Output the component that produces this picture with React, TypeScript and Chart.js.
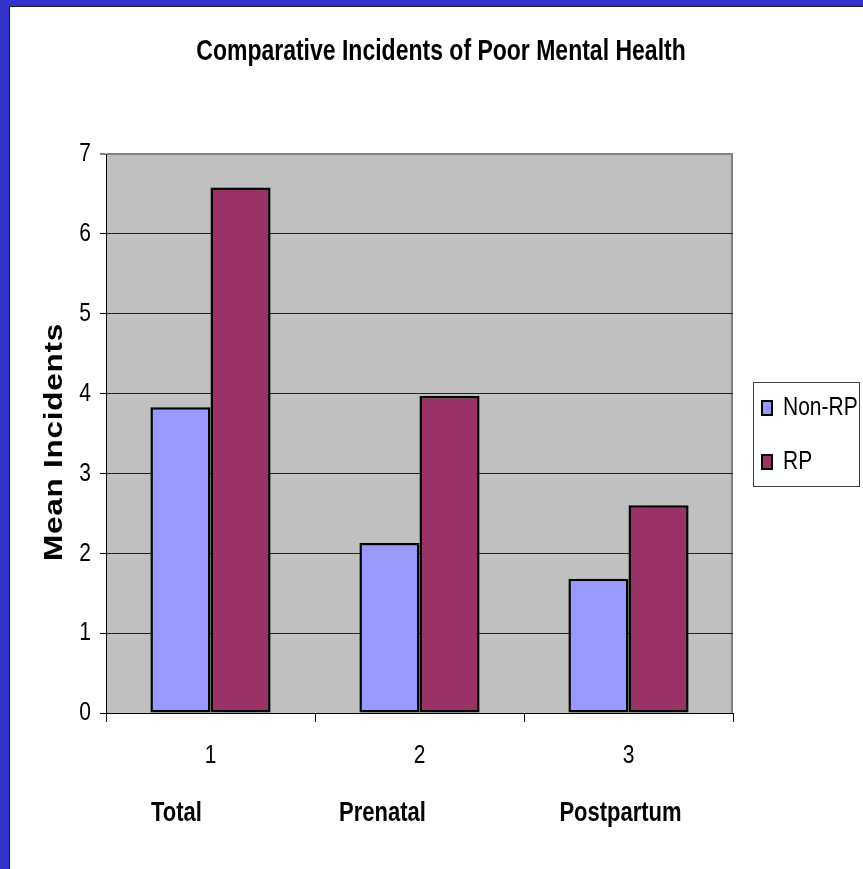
import React, { useEffect, useRef } from "react";
import { Chart, registerables } from "chart.js";

Chart.register(...registerables);

const categories = ["1", "2", "3"];
const groupNames = ["Total", "Prenatal", "Postpartum"];
const seriesNames = ["Non-RP", "RP"];
const nonRP = [3.83, 2.13, 1.68];
const rp = [6.58, 3.97, 2.6];
const yTicks = [0, 1, 2, 3, 4, 5, 6, 7];

const TITLE = "Comparative Incidents of Poor Mental Health";
const Y_TITLE = "Mean Incidents";
const COLORS = ["#9999FF", "#993366"];
const FONT = "'Liberation Sans', Arial, sans-serif";
const K = 1.26; // vertical stretch of the original picture
const GROUP_OFFSETS = [-34, -37, -8];

function stretchedText(
  ctx: CanvasRenderingContext2D,
  text: string,
  x: number,
  y: number,
  size: number,
  bold: boolean,
  align: CanvasTextAlign,
  rotate = false,
  spacing = 0
) {
  ctx.save();
  ctx.translate(x, y);
  ctx.scale(1, K);
  if (rotate) ctx.rotate(-Math.PI / 2);
  ctx.font = `${bold ? "bold " : ""}${size}px ${FONT}`;
  (ctx as any).letterSpacing = `${spacing}px`;
  ctx.fillStyle = "#000";
  ctx.textAlign = align;
  ctx.textBaseline = "middle";
  ctx.fillText(text, 0, 0);
  ctx.restore();
}

const framePlugin = {
  id: "frame",
  beforeDraw(chart: any) {
    const { ctx, width, height, chartArea } = chart;
    ctx.save();
    ctx.fillStyle = "#ffffff";
    ctx.fillRect(0, 0, width, height);
    ctx.fillStyle = "#3333CC";
    ctx.fillRect(0, 0, 9, height);
    ctx.fillRect(0, 0, width, 6);
    ctx.fillStyle = "#1a1a1a";
    ctx.fillRect(9, 6, 1, height - 6);
    ctx.fillRect(9, 6, width - 9, 1);
    ctx.fillStyle = "#C0C0C0";
    ctx.fillRect(
      chartArea.left,
      chartArea.top,
      chartArea.right - chartArea.left,
      chartArea.bottom - chartArea.top
    );
    ctx.strokeStyle = "#808080";
    ctx.lineWidth = 2;
    ctx.beginPath();
    ctx.moveTo(chartArea.right - 1, chartArea.top);
    ctx.lineTo(chartArea.right - 1, chartArea.bottom);
    ctx.stroke();
    ctx.restore();
  },
  afterDraw(chart: any) {
    const { ctx } = chart;
    const xs = chart.scales.x;
    const ys = chart.scales.y;
    stretchedText(ctx, TITLE, 441, 52, 23, true, "center");
    stretchedText(ctx, Y_TITLE, 55, 442, 25, true, "center", true, 0.6);
    ys.ticks.forEach((t: any, i: number) => {
      const y = ys.getPixelForTick(i);
      stretchedText(ctx, String(t.value), 91, y, 21, false, "right");
    });
    categories.forEach((c, i) => {
      const x = xs.getPixelForTick(i);
      stretchedText(ctx, c, x, 756, 21, false, "center");
      stretchedText(ctx, groupNames[i], x + GROUP_OFFSETS[i], 813, 22, true, "center");
    });
    ctx.save();
    ctx.fillStyle = "#fff";
    ctx.fillRect(753, 382, 106, 104);
    ctx.strokeStyle = "#404040";
    ctx.lineWidth = 1;
    ctx.strokeRect(753.5, 382.5, 106, 104);
    const rowsY = [408, 462];
    chart.data.datasets.forEach((ds: any, i: number) => {
      const y = rowsY[i];
      ctx.fillStyle = ds.backgroundColor;
      ctx.fillRect(761, y - 8, 12, 16);
      ctx.strokeStyle = "#000";
      ctx.lineWidth = 2;
      ctx.strokeRect(762, y - 7, 10, 14);
      stretchedText(ctx, ds.label, 783, y, 21, false, "left");
    });
    ctx.restore();
  },
};

export default function App() {
  const ref = useRef<HTMLCanvasElement | null>(null);
  useEffect(() => {
    if (!ref.current) return;
    const chart = new Chart(ref.current, {
      type: "bar",
      data: {
        labels: categories,
        datasets: [
          {
            label: seriesNames[0],
            data: nonRP,
            backgroundColor: COLORS[0],
            borderColor: "#000",
            borderWidth: 2.5,
            borderSkipped: false,
          },
          {
            label: seriesNames[1],
            data: rp,
            backgroundColor: COLORS[1],
            borderColor: "#000",
            borderWidth: 2.5,
            borderSkipped: false,
          },
        ],
      },
      options: {
        responsive: false,
        animation: false,
        devicePixelRatio: 1,
        layout: { padding: { top: 154, right: 130, left: 0, bottom: 0 } },
        plugins: {
          legend: { display: false },
          title: { display: false },
          tooltip: { enabled: false },
        },
        datasets: { bar: { categoryPercentage: 0.575, barPercentage: 1 } },
        scales: {
          x: {
            ticks: { display: false },
            grid: {
              offset: true,
              drawOnChartArea: false,
              drawTicks: true,
              tickLength: 9,
              color: "#000",
              tickColor: "#000",
            },
            border: { display: true, color: "#000", width: 1 },
            afterFit: (s: any) => {
              s.height = 156;
            },
          },
          y: {
            min: 0,
            max: 7,
            afterBuildTicks: (s: any) => {
              s.ticks = yTicks.map((v) => ({ value: v }));
            },
            ticks: { display: false },
            grid: {
              color: (c: any) =>
                c.tick && c.tick.value === 7
                  ? "#808080"
                  : c.tick && c.tick.value === 0
                  ? "rgba(0,0,0,0)"
                  : "#222",
              lineWidth: (c: any) => (c.tick && c.tick.value === 7 ? 2 : 1),
              tickColor: "#000",
              tickWidth: 1,
              tickLength: 6,
            },
            border: { display: true, color: "#000", width: 1 },
            afterFit: (s: any) => {
              s.width = 106;
            },
          },
        },
      },
      plugins: [framePlugin],
    });
    return () => chart.destroy();
  }, []);
  return (
    <div style={{ position: "fixed", left: 0, top: 0, width: 863, height: 869 }}>
      <canvas ref={ref} width={863} height={869} style={{ display: "block", width: 863, height: 869 }} />
    </div>
  );
}
